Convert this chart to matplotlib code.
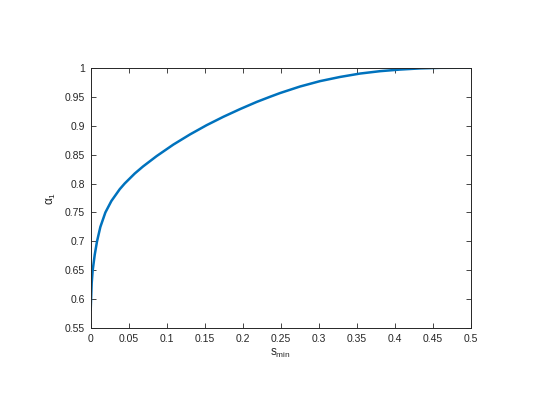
import matplotlib
matplotlib.use("Agg")
import matplotlib.pyplot as plt

s_min = [0.0, 0.0005, 0.0013, 0.0026, 0.0053, 0.0083, 0.0127, 0.0193, 0.0272,
         0.0382, 0.0447, 0.0579, 0.0688, 0.0868, 0.1087, 0.1307, 0.1526,
         0.1745, 0.1965, 0.2184, 0.236, 0.2491, 0.2754, 0.3017, 0.328,
         0.3544, 0.3807, 0.407, 0.4333, 0.46, 0.5]
alpha1 = [0.582, 0.60, 0.628, 0.65, 0.677, 0.70, 0.725, 0.75, 0.7698,
          0.7902, 0.800, 0.8172, 0.8294, 0.8474, 0.8672, 0.8848, 0.9008,
          0.9152, 0.9285, 0.9409, 0.9498, 0.9562, 0.9675, 0.9768, 0.9840,
          0.9899, 0.9940, 0.9968, 0.9988, 0.9998, 1.0]

xticks = [0, 0.05, 0.1, 0.15, 0.2, 0.25, 0.3, 0.35, 0.4, 0.45, 0.5]
yticks = [0.55, 0.6, 0.65, 0.7, 0.75, 0.8, 0.85, 0.9, 0.95, 1.0]

plt.rcParams['font.family'] = ['Liberation Sans', 'DejaVu Sans']
ax_color = '#262626'

fig = plt.figure(figsize=(5.45, 4.07), dpi=100)
ax = fig.add_axes([90.7 / 545, (407 - 328.3) / 407, 380 / 545, 260.6 / 407])
ax.plot(s_min, alpha1, color='#0072BD', lw=1.8, solid_joinstyle='round')
ax.set_xlim(0, 0.5)
ax.set_ylim(0.55, 1.0)
ax.set_xticks(xticks)
ax.set_yticks(yticks)
ax.set_xticklabels(['%g' % v for v in xticks])
ax.set_yticklabels(['%g' % v for v in yticks])
ax.tick_params(direction='in', top=True, right=True, length=3.5, width=0.6,
               colors=ax_color, labelsize=7.5, pad=4)
for sp in ax.spines.values():
    sp.set_color(ax_color)
    sp.set_linewidth(0.7)
ax.set_xlabel(r'$\mathregular{s_{min}}$', fontsize=8.5, color=ax_color, labelpad=2)
ax.set_ylabel(r'$\mathregular{\alpha_1}$', fontsize=8.5, color=ax_color, labelpad=5)
fig.savefig('out.png', dpi=100)
